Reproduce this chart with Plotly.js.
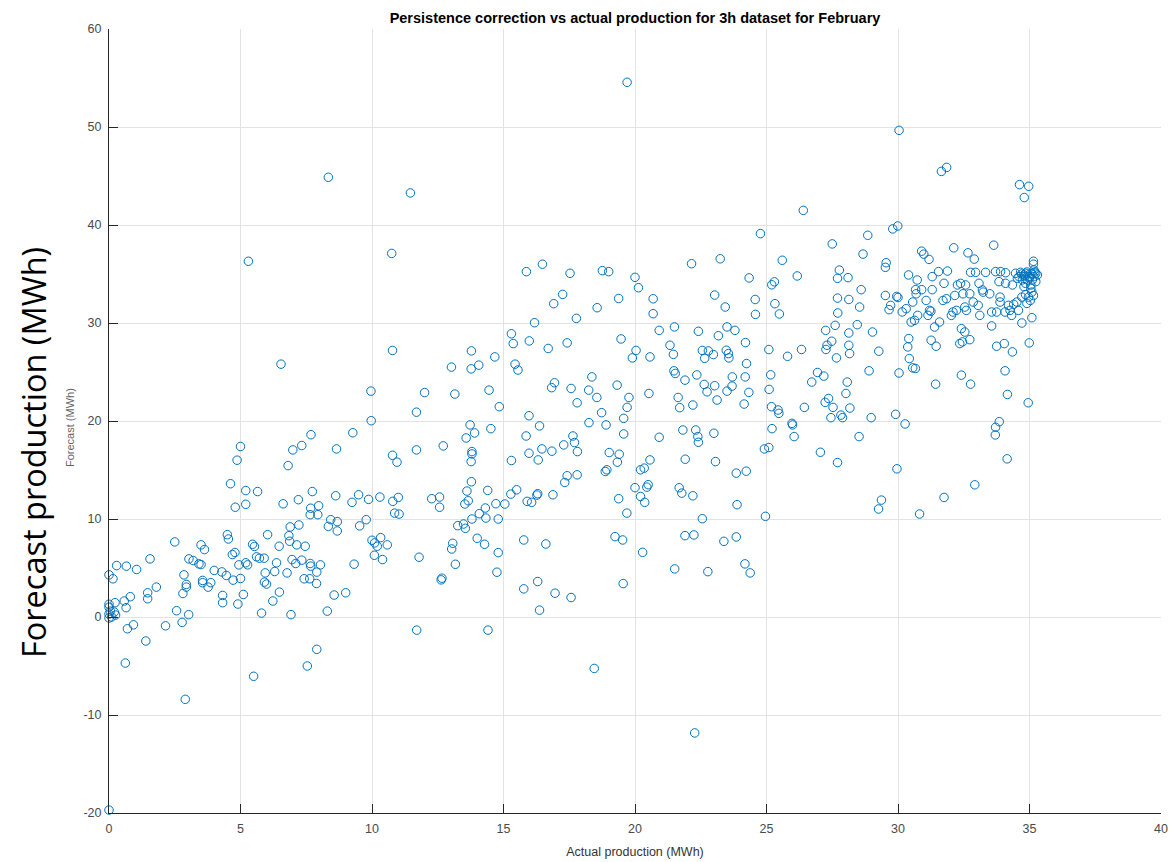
<!DOCTYPE html>
<html>
<head>
<meta charset="utf-8">
<script src="https://cdn.plot.ly/plotly-3.0.1.min.js"></script>
<style>
  html, body { margin: 0; padding: 0; background: #ffffff; }
  #chart { width: 1171px; height: 862px; }
</style>
</head>
<body>
<div id="chart"></div>
<script>
// ---- Data ----
const chartTitle = "Persistence correction vs actual production for 3h dataset for February";
const xLabel = "Actual production (MWh)";
const yLabelLarge = "Forecast production (MWh)";
const yLabelSmall = "Forecast (MWh)";
const xTicks = [0, 5, 10, 15, 20, 25, 30, 35, 40];
const yTicks = [-20, -10, 0, 10, 20, 30, 40, 50, 60];

// low production region (0-11 MWh)
const actualA = [0,0.2,0.25,0.1,0,0,0.05,0.7,0.93,1.4,
  0.62,2.15,2.57,2.78,3.03,2.9,5.8,6.92,8.3,5.5,
  7.54,7.9,0,8.34,5.3,10.75];
const forecastA = [1.0,0.5,0.2,0.0,0.3,-0.1,0.6,-1.2,-0.8,-2.45,
  -4.7,-0.9,0.64,-0.55,0.24,-8.4,0.4,0.24,0.6,-6.05,
  -5.0,-3.3,-19.7,44.87,36.3,37.1];

const actualB = [6.54,10.78,9.96,9.97,7.68,9.27,5.0,4.87,6.99,7.33,
  8.65,6.81,10.78,10.95,4.62,5.2,5.65,4.8,5.2,6.62,
  7.2,7.73,7.67,7.97,7.65,7.94,8.62,9.24,9.49,9.87,
  10.3,10.86,8.43,8.68,8.34,8.68,9.53,9.78,7.22,6.89,
  6.84,6.87,7.14,7.46,6.47,6.03,4.5,4.54,5.46,5.53,
  2.5,3.5,3.63,1.56,0.29,0.66,1.05,0,0.15,3.04,
  3.2,3.42,3.5,2.85,2.81,2.94,2.94,1.8,1.47,1.47,
  0.81,0.58,0.23,0,0.65,3.56,3.56,3.87,3.77,4.0,
  4.29,4.46,4.72,5.0,4.69,4.79,4.94,5.2,5.27,5.61,
  5.72,5.9,6.37,6.3,5.94,5.91,5.99,6.77,6.96,7.1,
  7.33,7.65,7.67,8.04,7.9,7.42,7.63,7.89,9.32,10.0,
  10.1,10.2,10.33,10.58,10.09,10.4,6.48,6.23,5.11,4.9,
  4.32,4.32,8.56,9.0];
const forecastB = [25.8,27.2,23.05,20.03,18.6,18.8,17.4,16.0,17.05,17.5,
  17.15,15.45,16.5,15.8,13.6,12.9,12.8,11.2,11.5,11.55,
  11.97,12.8,11.1,11.35,10.44,10.44,12.37,11.7,12.47,12.0,
  12.24,10.6,9.93,9.73,9.25,8.78,9.3,9.93,9.39,9.19,
  8.3,7.73,7.36,7.22,7.22,8.4,8.4,7.96,7.42,7.2,
  7.66,7.36,6.88,5.93,5.25,5.19,4.85,4.3,3.9,5.93,
  5.76,5.42,5.35,4.3,2.4,3.32,3.05,3.05,2.47,1.86,
  2.07,1.63,1.46,1.3,0.95,3.73,3.5,3.5,3.05,4.75,
  4.6,4.24,3.76,3.93,6.37,6.58,5.32,5.53,5.32,6.14,
  6.0,6.0,5.53,4.64,4.5,3.56,3.36,4.5,5.86,5.46,
  5.8,5.46,5.19,5.32,4.58,3.9,3.9,3.42,5.39,7.83,
  7.56,7.22,8.1,7.36,6.3,5.86,2.54,1.63,2.3,1.32,
  2.2,1.46,2.24,2.47];

// upper outliers and top row
const actualC = [19.7,11.46,15.87,16.48,17.53,18.76,19.0,20.0,20.13];
const forecastC = [54.56,43.27,35.24,36.0,35.07,35.34,35.24,34.66,33.6];

const actualD = [30.04,26.4,24.77,29.8,29.99,27.5,28.85,28.67,22.15,23.24,
  25.6,24.34,25.2,25.3,26.17,27.77,27.7,28.1,29.55,29.52,
  30.4,28.6];
const forecastD = [49.66,41.49,39.12,39.6,39.9,38.07,38.95,37.03,36.05,36.55,
  36.4,34.6,33.9,34.2,34.8,35.4,34.56,34.63,36.15,35.68,
  34.9,33.4];

const actualE = [31.65,31.85,34.62,34.97,34.8,33.64,32.12,30.9,30.98,31.18,
  32.66,32.9,35.15,35.15,30.73,31.3,31.54,31.88,30.9,31.3,
  31.75,32.26,30.67];
const forecastE = [45.47,45.88,44.12,43.95,42.8,37.94,37.67,37.33,37.03,36.49,
  37.16,36.52,36.3,36.0,34.39,34.73,35.24,35.3,33.4,33.4,
  34.05,33.88,33.4];

// dense cluster near full capacity
const actualF = [32.76,32.95,33.33,33.71,33.9,34.09,34.47,34.66,34.85,35.05,
  35.24,35.17,34.6,34.79,34.98,35.17,34.73,34.92,35.11,35.3,
  34.54,34.85,35.05,35.24,34.7,34.9,35.0,35.2,34.8,35.1,
  32.38,32.57,33.08,33.21,33.84,34.09,34.35,34.79,35.05];
const forecastF = [35.17,35.17,35.17,35.24,35.24,35.13,35.07,35.17,35.07,35.07,
  35.07,35.4,34.73,34.73,34.73,34.73,34.4,34.4,34.4,34.9,
  34.56,34.05,33.88,34.22,35.0,35.2,34.6,35.2,34.9,35.0,
  34.05,33.88,34.05,33.37,34.22,34.05,33.88,33.71,33.54];

// middle region (10-21 MWh)
const actualG = [16.91,17.25,18.56,19.38,20.69,20.69,16.18,17.77,15.3,15.37,
  15.98,16.7,17.42,19.47,20.04,19.9,20.57,13.78,13.02,13.77,
  14.06,14.67,15.44,15.55,12.0,13.15,14.45,11.69,14.84,16.94,
  16.83,17.57,18.36,18.24,18.55,17.8,19.32,19.77,19.7,20.53,
  15.97,18.73,13.73,13.9,13.58,14.52,12.71,11.69,13.8,13.8,
  13.77,16.37,15.86,18.25,18.9,19.57,19.57,17.64,17.7,17.81,
  17.29,16.46,15.97,16.84,16.32,15.3,19.02,19.4,19.33,18.87,
  18.93,20.21,20.35,20.57,17.33,17.42,17.8,13.78,13.61,13.66,
  13.53,14.4,14.71,15.05,15.28,15.5,15.9,16.07,16.27,16.3,
  16.88,10.79,11.0,12.27,12.57,12.57,11.03,14.08,14.31,14.8,
  13.8,14.33,19.69,19.38,20.0,20.21,20.37,20.45,20.5];
const forecastG = [31.97,32.92,31.56,32.5,32.47,30.95,30.03,30.47,28.9,27.9,
  28.17,27.4,27.97,28.37,27.2,26.44,26.54,27.15,25.5,25.32,
  25.7,26.54,25.8,25.2,22.9,22.75,23.15,20.9,21.46,23.9,
  23.4,23.32,24.5,23.15,22.4,21.86,23.66,22.4,21.39,22.81,
  20.54,20.85,19.6,18.78,18.27,19.22,17.46,17.05,16.88,16.64,
  15.86,19.5,18.47,19.83,19.6,20.27,18.68,18.47,17.8,16.88,
  17.56,17.15,16.71,16.92,16.03,15.97,16.78,16.61,15.8,14.85,
  15.02,15.02,15.19,16.03,13.73,14.41,14.51,13.8,12.85,11.86,
  11.53,12.92,11.56,11.53,12.54,12.98,11.8,11.7,12.44,12.58,
  12.47,11.8,12.2,12.07,12.24,11.2,10.5,10.54,11.12,10.0,
  10.0,10.1,10.6,12.07,13.2,12.3,11.7,13.25,13.5];

// middle region (20-30 MWh)
const actualH = [23.03,23.43,24.57,24.58,25.32,25.49,27.7,28.13,28.54,27.71,
  29.52,29.95,30.0,29.72,29.66,30.16,20.92,21.5,22.41,23.17,
  23.5,23.8,24.2,21.33,21.46,22.56,22.79,22.65,22.98,23.47,
  23.55,23.57,24.24,25.09,25.8,26.33,27.25,27.48,27.3,27.26,
  27.61,28.13,28.45,29.03,28.13,28.16,27.66,29.27,28.9,30.04,
  21.48,21.53,21.9,22.35,22.63,22.74,23.03,23.7,23.69,24.19,
  23.5,24.33,23.12,21.64,21.7,22.2,24.15,25.16,25.1,25.19,
  25.44,25.47,26.44,26.72,26.94,27.18,27.23,27.36,27.53,27.45,
  27.83,27.89,28.07,28.02,28.17,28.98,29.91,30.27,25.97,25.99,
  25.21,26.05,20.92,21.82,22.31,22.39,22.41,23.0,24.92,25.09,
  27.05,27.7,28.52,29.96,21.91,23.06,23.85,24.23,21.68,21.78,
  22.2,23.88,22.56,24.96,29.37,29.26];
const forecastH = [32.85,31.63,32.4,30.88,31.97,30.92,32.54,32.4,31.63,31.02,
  32.81,32.71,32.6,31.8,31.36,31.13,29.25,29.6,29.15,28.7,
  29.6,29.25,28.0,27.73,26.8,27.2,27.15,26.4,26.78,27.22,
  26.88,26.44,25.86,27.29,26.6,27.3,29.25,28.14,27.73,27.3,
  29.76,28.98,29.83,29.08,27.73,26.88,26.44,27.12,25.12,24.9,
  25.12,24.85,24.17,24.7,23.73,22.98,23.6,24.5,23.56,24.5,
  23.05,22.92,22.14,22.4,21.36,21.63,21.73,24.71,23.22,21.46,
  21.12,20.78,21.39,23.97,24.95,24.58,21.9,22.3,21.39,20.34,
  20.6,20.34,23.97,22.81,21.32,20.34,20.68,19.7,19.76,19.6,
  19.22,18.41,18.34,19.08,19.08,18.41,17.83,18.75,17.15,17.29,
  16.81,15.76,18.41,15.12,16.1,15.86,14.68,14.88,13.19,12.64,
  12.37,11.46,10.03,10.27,11.93,11.02];

// high production region (30-36 MWh)
const actualI = [30.69,31.07,30.56,30.31,30.5,30.63,30.75,31.2,31.25,31.14,
  31.39,31.58,31.71,31.84,32.16,32.09,32.03,32.22,32.47,32.73,
  32.54,32.6,32.86,33.05,33.11,33.24,33.49,33.56,33.75,33.88,
  33.88,34.07,34.2,34.26,34.32,34.52,34.58,34.71,34.96,35.03,
  35.09,34.71,35.09,33.56,34.4,34.85,35.15,34.9,
  30.41,30.37,30.43,30.56,30.66,31.26,31.45,32.41,32.54,32.35,
  32.45,32.73,33.75,34.04,34.35,34.99,34.07,32.41,32.76,31.43,
  34.16,34.95,33.85,33.71,33.7,34.15,32.92,31.75,30.82];
const forecastI = [32.98,32.3,32.14,31.46,30.1,30.27,30.78,31.29,31.2,30.78,
  29.59,30.1,32.3,32.47,32.81,31.12,30.78,31.29,32.98,32.98,
  31.63,31.29,32.14,31.8,30.78,33.15,32.98,31.12,31.12,32.64,
  32.14,31.12,31.8,31.29,30.78,32.14,31.29,32.64,32.64,32.3,
  33.15,30.0,30.54,29.7,31.9,32.9,32.8,32.0,
  28.41,27.56,26.37,25.42,25.36,28.24,27.63,29.42,29.08,27.9,
  28.07,28.3,27.63,27.9,27.05,27.97,25.12,24.68,23.76,23.76,
  22.71,21.86,19.93,19.36,18.58,16.14,13.49,12.2,10.51];

// lower region (11-25 MWh)
const actualJ = [13.26,13.48,13.55,11.79,13.07,13.03,13.17,12.63,12.66,14.0,
  14.28,14.8,14.75,15.77,16.61,16.3,15.77,16.96,17.57,16.37,
  19.24,19.53,20.29,19.55,11.7,14.41,18.45,
  21.9,22.24,23.38,23.85,21.51,22.77,24.18,24.38,22.27];
const forecastJ = [9.32,9.49,9.05,6.1,7.52,6.94,5.38,3.79,3.96,8.03,
  7.42,6.57,4.57,7.86,7.45,3.62,2.87,2.43,1.99,0.7,
  8.2,7.86,6.6,3.41,-1.34,-1.34,-5.25,
  8.3,8.37,7.72,8.17,4.91,4.63,5.42,4.5,-11.83];

const actualAll = [].concat(actualA, actualB, actualC, actualD, actualE, actualF, actualG, actualH, actualI, actualJ);
const forecastAll = [].concat(forecastA, forecastB, forecastC, forecastD, forecastE, forecastF, forecastG, forecastH, forecastI, forecastJ);

const trace = {
  type: 'scatter',
  mode: 'markers',
  x: actualAll,
  y: forecastAll,
  cliponaxis: false,
  marker: { symbol: 'circle-open', size: 8.5, color: '#0072BD', line: { width: 1, color: '#0072BD' } },
  hoverinfo: 'x+y'
};

const axisFont = { family: 'Liberation Sans, Arial, sans-serif', size: 12.5, color: '#4a4a4a' };

const layout = {
  width: 1171,
  height: 862,
  margin: { l: 109, r: 10, t: 29, b: 49 },
  paper_bgcolor: '#ffffff',
  plot_bgcolor: '#ffffff',
  showlegend: false,
  title: {
    text: chartTitle,
    font: { family: 'Liberation Sans, Arial, sans-serif', size: 14.5, color: '#000000', weight: 'bold' },
    x: 0.5, xref: 'paper', xanchor: 'center',
    y: 1 - 18 / 862, yref: 'container', yanchor: 'middle'
  },
  xaxis: {
    range: [0, 40],
    tickvals: xTicks,
    ticktext: xTicks.map(String),
    ticks: 'inside', ticklen: 9, tickcolor: '#262626', tickwidth: 1,
    ticklabelstandoff: 4,
    showline: true, linecolor: '#262626', linewidth: 1, mirror: false,
    showgrid: true, gridcolor: '#e3e3e3', gridwidth: 1,
    zeroline: false,
    tickfont: axisFont,
    title: { text: xLabel, font: { family: 'Liberation Sans, Arial, sans-serif', size: 12.5, color: '#333333' }, standoff: 12 }
  },
  yaxis: {
    range: [-20, 60],
    tickvals: yTicks,
    ticktext: yTicks.map(String),
    ticks: 'inside', ticklen: 9, tickcolor: '#262626', tickwidth: 1,
    ticklabelstandoff: 4,
    showline: true, linecolor: '#262626', linewidth: 1, mirror: false,
    showgrid: true, gridcolor: '#e3e3e3', gridwidth: 1,
    zeroline: false,
    tickfont: axisFont
  },
  annotations: [
    {
      text: yLabelSmall, textangle: -90,
      xref: 'paper', yref: 'paper',
      x: (70 - 109) / 1052, y: (813 - 428) / 784,
      xanchor: 'center', yanchor: 'middle', showarrow: false,
      font: { family: 'Liberation Sans, Arial, sans-serif', size: 11, color: '#666666' }
    },
    {
      text: yLabelLarge, textangle: -90,
      xref: 'paper', yref: 'paper',
      x: (33 - 109) / 1052, y: (813 - 453) / 784,
      xanchor: 'center', yanchor: 'middle', showarrow: false,
      bgcolor: '#ffffff',
      font: { family: 'Open Sans, sans-serif', size: 32.5, color: '#000000' }
    }
  ]
};

Plotly.newPlot('chart', [trace], layout, { displayModeBar: false, staticPlot: true });
</script>
</body>
</html>
